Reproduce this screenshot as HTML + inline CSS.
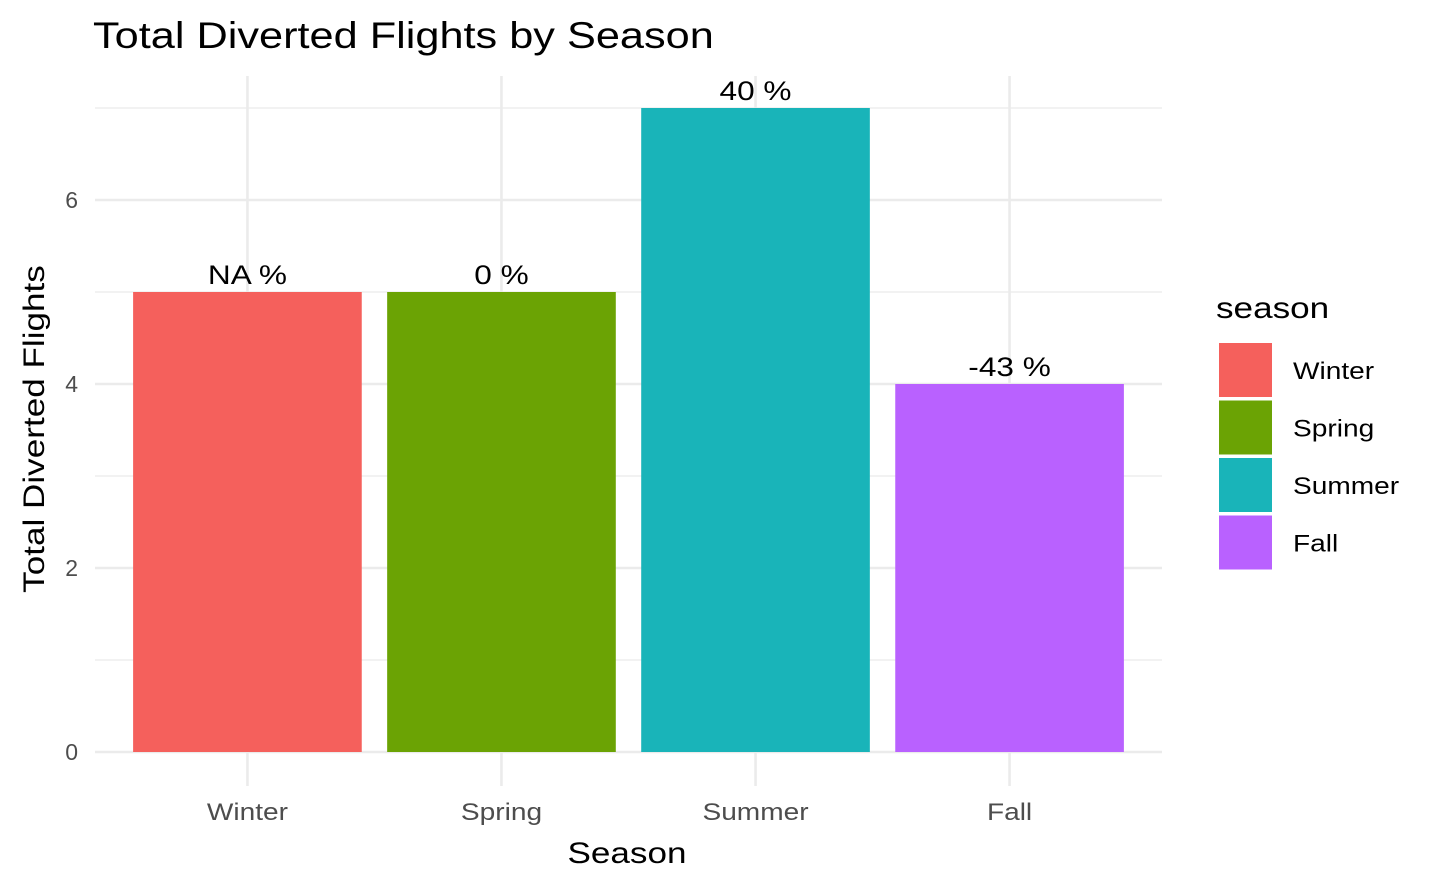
<!DOCTYPE html>
<html><head><meta charset="utf-8"><style>
html,body{margin:0;padding:0;background:#fff;}
svg{display:block;font-family:"Liberation Sans",Arial,sans-serif;}
</style></head><body>
<svg id="chart" width="1440" height="889" viewBox="0 0 1440 889" xmlns="http://www.w3.org/2000/svg">
<text class="wide" x="93" y="48" font-size="37" fill="#000">Total Diverted Flights by Season</text>
<g id="grid"></g>
<g id="bars"></g>
<g id="labels"></g>
<g id="yticks"></g>
<g id="xticks"></g>
<text class="wide" x="627" y="863" font-size="30" text-anchor="middle" fill="#000">Season</text>
<text class="wide" transform="translate(44,429) rotate(-90)" font-size="30" text-anchor="middle" fill="#000">Total Diverted Flights</text>
<g id="legend">
<text class="wide" x="1216" y="318" font-size="30" fill="#000">season</text>
</g>
</svg>
<script>
const categories = ["Winter","Spring","Summer","Fall"];
const values = [5,5,7,4];
const pctLabels = ["NA %","0 %","40 %","-43 %"];
const colors = ["#F5605C","#6BA304","#19B4B9","#B961FF"];
const yTicks = [0,2,4,6];
const yMinor = [1,3,5,7];

const NS="http://www.w3.org/2000/svg";
const panelL=95, panelR=1162, y0=752, unit=92;
const step=(panelR-panelL)/4.2;
const xC=i=>panelL+step*(0.6+i);
const yS=v=>y0-v*unit;
function mk(tag,attrs,parent){const e=document.createElementNS(NS,tag);for(const k in attrs)e.setAttribute(k,attrs[k]);parent.appendChild(e);return e;}
const grid=document.getElementById('grid');
yMinor.forEach(v=>{const l=mk('line',{x1:panelL,x2:panelR,y1:yS(v),y2:yS(v),stroke:'#ebebeb','stroke-width':1.3},grid);

});
yTicks.forEach(v=>{const l=mk('line',{x1:panelL,x2:panelR,y1:yS(v),y2:yS(v),stroke:'#ebebeb','stroke-width':2.6},grid);

});
categories.forEach((c,i)=>{const l=mk('line',{x1:xC(i),x2:xC(i),y1:76,y2:786,stroke:'#ebebeb','stroke-width':2.6},grid);

});
const bars=document.getElementById('bars'), labels=document.getElementById('labels');
const bw=step*0.9;
categories.forEach((c,i)=>{
 const r=mk('rect',{x:xC(i)-bw/2,y:yS(values[i]),width:bw,height:values[i]*unit,fill:colors[i]},bars);
 
 
 const t=mk('text',{x:xC(i),y:yS(values[i])-8,'font-size':27,'text-anchor':'middle',fill:'#000','class':'wide'},labels);
 t.textContent=pctLabels[i];
 
 
 const xt=mk('text',{x:xC(i),y:820,'font-size':24,'text-anchor':'middle',fill:'#4d4d4d','class':'wide'},document.getElementById('xticks'));
 xt.textContent=c;
 
 
});
yTicks.forEach(v=>{const t=mk('text',{x:78,y:yS(v)+8,'font-size':23,'text-anchor':'end',fill:'#4d4d4d'},document.getElementById('yticks'));
 t.textContent=v;
 
 });
const leg=document.getElementById('legend');
categories.forEach((c,i)=>{
 const y=343+i*57.5;
 const r=mk('rect',{x:1219,y:y,width:53,height:54,fill:colors[i]},leg);
 
 
 const t=mk('text',{x:1293,y:y+36,'font-size':24,fill:'#000','class':'wide'},leg);
 t.textContent=c;
 
 
});
document.querySelectorAll('text.wide').forEach(t=>{
 const w=t.getComputedTextLength();
 t.setAttribute('textLength',(w*1.17).toFixed(1));
 t.setAttribute('lengthAdjust','spacingAndGlyphs');
});
</script>
</body></html>
